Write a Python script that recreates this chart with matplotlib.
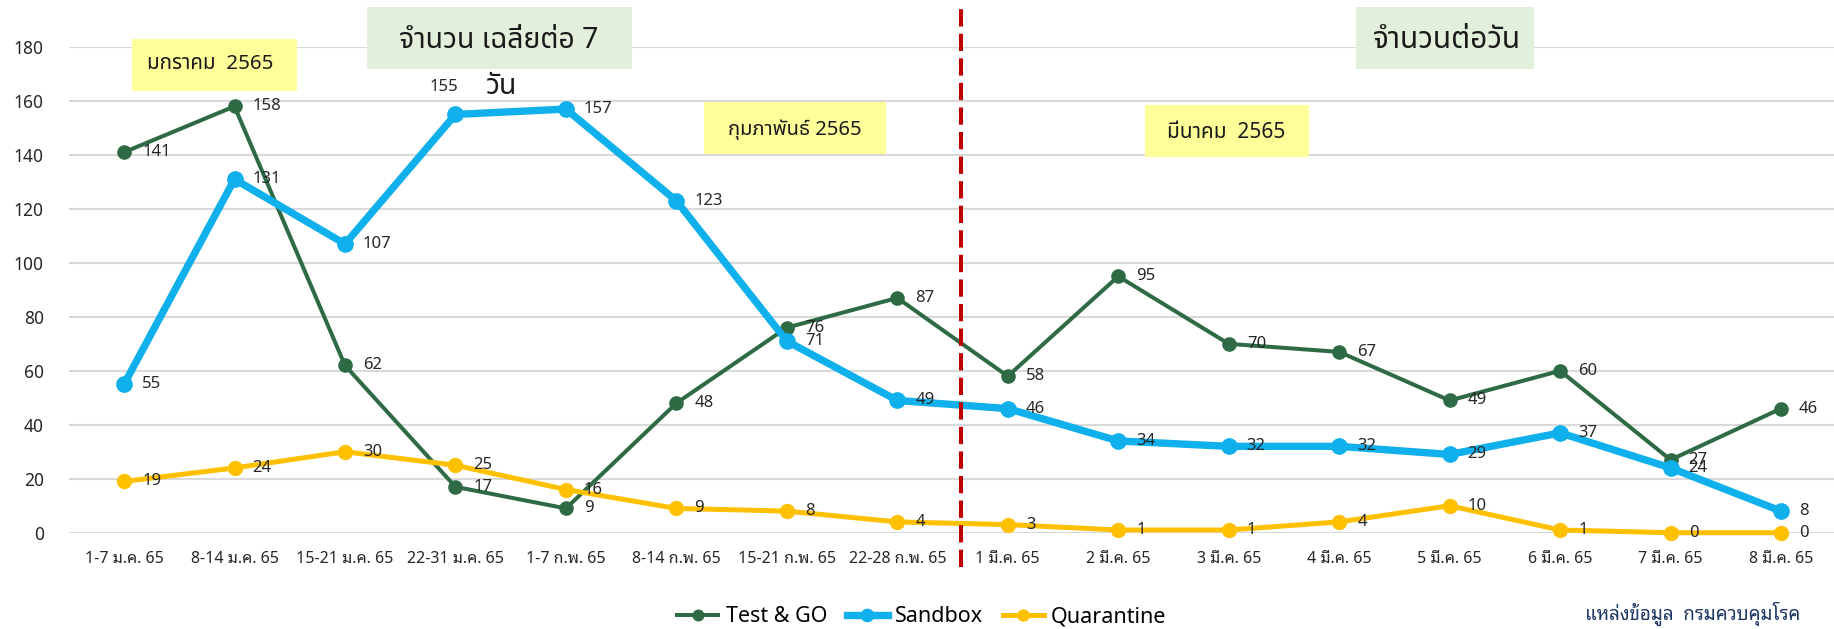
import matplotlib
matplotlib.use("Agg")
import matplotlib.pyplot as plt
from matplotlib.patches import Rectangle

# Data
categories = ["1-7 ม.ค. 65", "8-14 ม.ค. 65", "15-21 ม.ค. 65", "22-31 ม.ค. 65",
              "1-7 ก.พ. 65", "8-14 ก.พ. 65", "15-21 ก.พ. 65", "22-28 ก.พ. 65",
              "1 มี.ค. 65", "2 มี.ค. 65", "3 มี.ค. 65", "4 มี.ค. 65",
              "5 มี.ค. 65", "6 มี.ค. 65", "7 มี.ค. 65", "8 มี.ค. 65"]
test_go = [141, 158, 62, 17, 9, 48, 76, 87, 58, 95, 70, 67, 49, 60, 27, 46]
sandbox = [55, 131, 107, 155, 157, 123, 71, 49, 46, 34, 32, 32, 29, 37, 24, 8]
quarantine = [19, 24, 30, 25, 16, 9, 8, 4, 3, 1, 1, 4, 10, 1, 0, 0]
yticks = [0, 20, 40, 60, 80, 100, 120, 140, 160, 180]

W, H = 1834, 629
LATIN_THAI = ["Noto Sans", "Noto Sans Thai Looped", "DejaVu Sans"]
THAI_BOX = ["Noto Sans Thai", "DejaVu Sans"]
TXT = "#262626"

fig = plt.figure(figsize=(W / 100, H / 100), dpi=100)

def fx(px):
    return px / W

def fy(py):
    return 1 - py / H

# axes placed in pixels (top-left origin)
x0, x1 = 68.8, 1836.3
y_bot, y_top = 532.7, 47.0
ax = fig.add_axes([fx(x0), fy(y_bot), fx(x1 - x0), (y_bot - y_top) / H])

x = list(range(len(categories)))
series = [
    (test_go, "Test & GO", "#2E6B45", 2.9, 9.5),
    (sandbox, "Sandbox", "#0FB0EC", 5.3, 11.0),
    (quarantine, "Quarantine", "#FFC000", 3.6, 10.0),
]
for i, (vals, name, col, lw, ms) in enumerate(series):
    ax.plot(x, vals, color=col, lw=lw, marker="o", ms=ms, label=name,
            zorder=3 + i, clip_on=False, solid_joinstyle="round")

# data labels
for vals in [test_go, sandbox, quarantine]:
    for i, v in enumerate(vals):
        if vals is sandbox and v == 155:
            ax.annotate(str(v), (i, v), xytext=(-8, 20), textcoords="offset points",
                        ha="center", va="center", fontsize=12, color=TXT,
                        family=LATIN_THAI, zorder=10)
        else:
            ax.annotate(str(v), (i, v), xytext=(13, 0), textcoords="offset points",
                        ha="left", va="center", fontsize=12, color=TXT,
                        family=LATIN_THAI, zorder=10)

ax.set_xlim(-0.5, len(categories) - 0.5)
ax.set_ylim(0, 180)
ax.set_yticks(yticks)
ax.set_xticks(x)
ax.set_xticklabels(categories, family=LATIN_THAI, fontsize=11.5, color=TXT)
for lab in ax.get_yticklabels():
    lab.set_family(LATIN_THAI)
    lab.set_fontsize(12.5)
    lab.set_color(TXT)
ax.tick_params(axis="y", length=0, pad=18)
ax.tick_params(axis="x", length=0, pad=13)
ax.yaxis.grid(True, color="#D9D9D9", lw=1.5)
ax.set_axisbelow(True)
for s in ax.spines.values():
    s.set_visible(False)

# red dashed separator
ax.axvline(7.58, ymin=(y_bot - 567) / (y_bot - y_top), ymax=(y_bot - 5) / (y_bot - y_top),
           color="#C00000", lw=2.9, dashes=(4.3, 1.8), clip_on=False, zorder=8)

# legend
fig.legend(loc="center", bbox_to_anchor=(fx(922), fy(617)), ncol=3, frameon=False,
           prop={"family": LATIN_THAI, "size": 15.5}, handlelength=1.9,
           handletextpad=0.35, columnspacing=0.9, markerscale=0.8)

# annotation boxes
def box(l, t, r, b, color):
    fig.patches.append(Rectangle((fx(l), fy(b)), fx(r - l), (b - t) / H,
                                 transform=fig.transFigure, facecolor=color,
                                 edgecolor="none", zorder=1))

YEL = "#FFFF99"
GRN = "#E2EFDA"
DARK = "#1a1a1a"
box(132, 39, 297, 91, YEL)
fig.text(fx(147), fy(64), "มกราคม  2565", ha="left", va="center", fontsize=14.8,
         family=THAI_BOX, weight="medium", color=DARK, zorder=2)
box(367, 7, 632, 69, GRN)
fig.text(fx(499), fy(40), "จำนวน เฉลี่ยต่อ 7", ha="center", va="center", fontsize=20.5,
         family=THAI_BOX, weight="medium", color=DARK, zorder=2)
fig.text(fx(502), fy(86), "วัน", ha="center", va="center", fontsize=20.5,
         family=THAI_BOX, weight="medium", color=DARK, zorder=2)
box(704, 102, 886, 154, YEL)
fig.text(fx(795), fy(130), "กุมภาพันธ์ 2565", ha="center", va="center", fontsize=14.5,
         family=THAI_BOX, weight="medium", color=DARK, zorder=2)
box(1145, 105, 1309, 157, YEL)
fig.text(fx(1226), fy(133), "มีนาคม  2565", ha="center", va="center", fontsize=15,
         family=THAI_BOX, weight="medium", color=DARK, zorder=2)
box(1356, 7, 1534, 69, GRN)
fig.text(fx(1447), fy(40), "จำนวนต่อวัน", ha="center", va="center", fontsize=21.5,
         family=THAI_BOX, weight="medium", color=DARK, zorder=2)

# source note
fig.text(fx(1800), fy(614), "แหล่งข้อมูล  กรมควบคุมโรค", ha="right", va="center",
         fontsize=13.5, family=LATIN_THAI, color="#1F3864")

fig.savefig("out.png", dpi=100)
